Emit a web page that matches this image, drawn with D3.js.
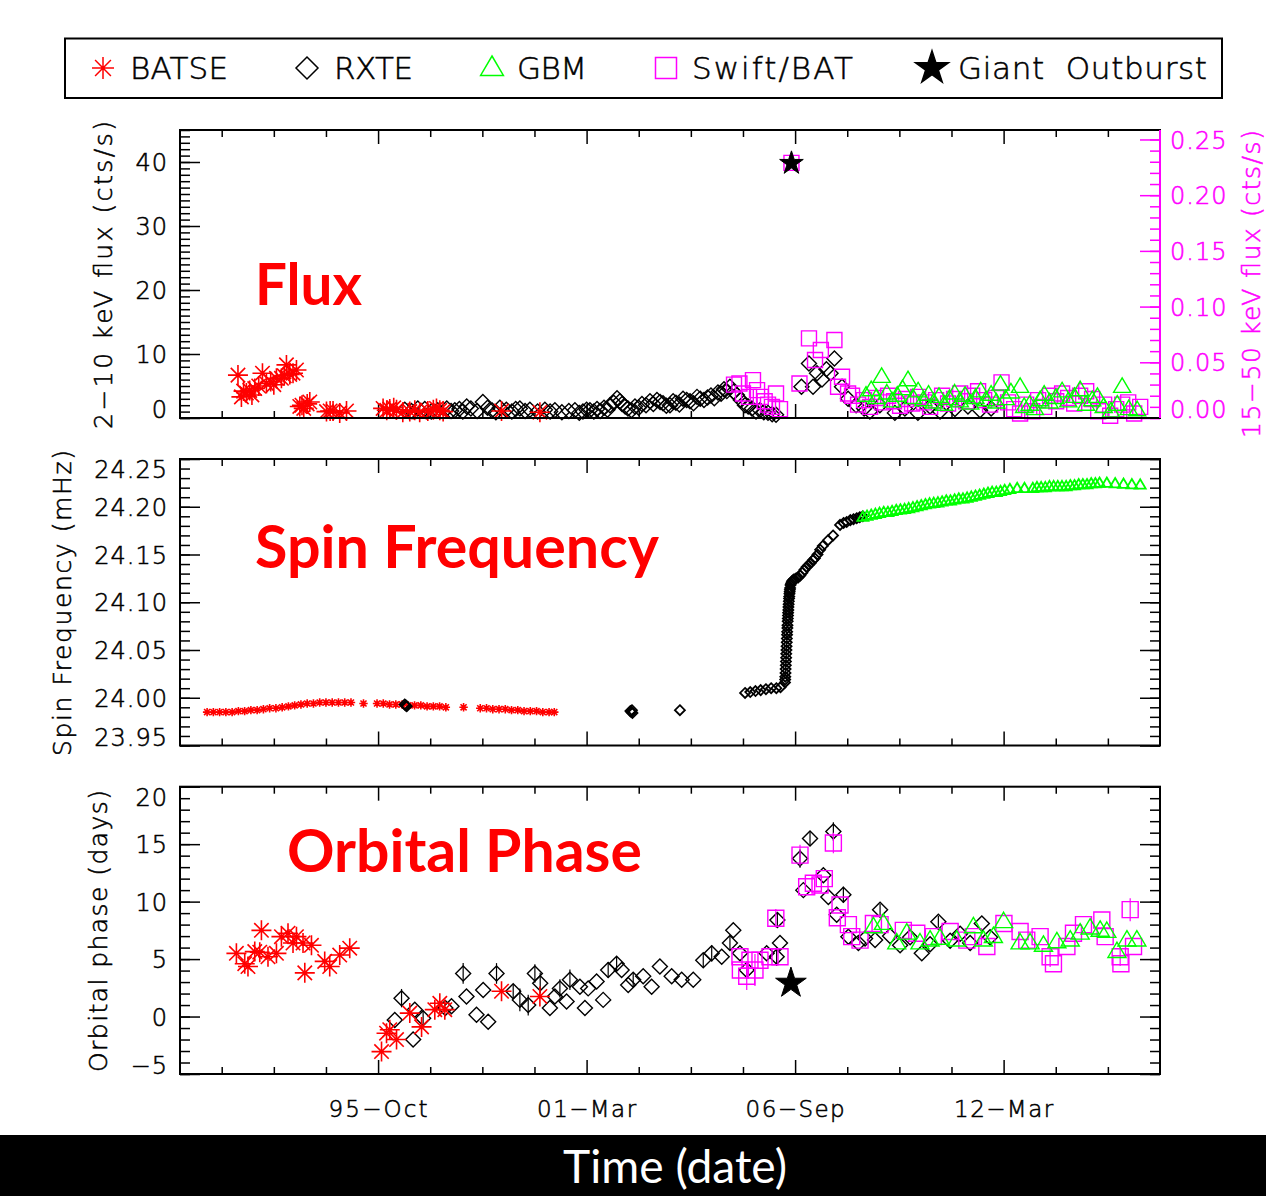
<!DOCTYPE html>
<html><head><meta charset="utf-8">
<script src="https://cdn.jsdelivr.net/npm/d3@7"></script>
<style>
html,body{margin:0;padding:0;background:#fff;}
svg{display:block;}
</style></head><body>
<svg id="chart" width="1266" height="1196"></svg>
<script>
// ---------------- DATA (x = MJD) ----------------
const xDomain = [48100, 57500];
const xMajorTicks = [50000, 52000, 54000, 56000];
const xTickLabels = ["95\u2212Oct", "01\u2212Mar", "06\u2212Sep", "12\u2212Mar"];
const xMinorTicks = [48500, 49000, 49500, 50500, 51000, 51500, 52500, 53000, 53500, 54500, 55000, 55500, 56500, 57000];

const fluxDomain = [0, 45];
const fluxTicks = [0, 10, 20, 30, 40];
const fluxRightDomain = [0, 0.2585];
const fluxRightTicks = [0, 0.05, 0.10, 0.15, 0.20, 0.25];
const spinDomain = [23.95, 24.25];
const spinTicks = [23.95, 24.00, 24.05, 24.10, 24.15, 24.20, 24.25];
const orbitDomain = [-5, 20];
const orbitTicks = [-5, 0, 5, 10, 15, 20];

const legendLabels = ["BATSE", "RXTE", "GBM", "Swift/BAT", "Giant\u00a0\u00a0Outburst"];

// Flux panel (left axis: BATSE, RXTE; right axis: GBM, Swift/BAT)
const batseFlux = [[48656,6.7],[48689,3.3],[48710,4.2],[48737,3.9],[48769,4.3],[48790,3.6],[48817,4.6],[48855,5.0],[48891,7.0],[48929,5.4],[48970,5.7],[49000,5.2],[49025,6.2],[49073,6.2],[49100,6.6],[49121,8.3],[49153,6.8],[49184,7.0],[49217,7.5],[49249,1.8],[49270,2.0],[49287,1.5],[49320,2.2],[49345,2.5],[49505,1.0],[49540,1.1],[49568,1.1],[49632,0.8],[49697,1.1],[50048,1.5],[50083,1.2],[50112,1.4],[50150,1.6],[50177,1.3],[50237,0.9],[50304,1.0],[50352,1.2],[50399,0.9],[50477,1.1],[50530,1.3],[50560,1.5],[50592,1.2],[50624,1.0],[51184,1.1],[51552,0.9]];
const rxteFlux = [[50256,1.3],[50320,1.1],[50381,1.5],[50448,1.4],[50510,1.0],[50572,1.2],[50659,1.5],[50700,1.1],[50736,1.2],[50780,1.4],[50813,1.0],[50850,1.8],[50890,1.5],[50950,1.1],[51005,2.5],[51050,1.6],[51092,1.2],[51130,0.9],[51168,1.6],[51230,1.3],[51283,1.0],[51320,1.4],[51360,1.5],[51410,1.1],[51456,1.3],[51530,1.0],[51600,1.3],[51650,1.0],[51696,1.2],[51763,0.9],[51830,1.1],[51888,1.2],[51930,0.8],[51965,1.0],[52000,1.3],[52032,1.2],[52070,1.0],[52100,1.4],[52130,1.1],[52167,1.6],[52200,1.3],[52224,2.0],[52260,2.4],[52292,3.1],[52320,2.6],[52340,2.2],[52370,1.8],[52397,1.5],[52430,1.2],[52464,1.8],[52500,1.6],[52531,2.2],[52570,2.0],[52608,2.6],[52640,2.2],[52675,2.8],[52705,2.5],[52733,2.3],[52765,1.9],[52800,2.0],[52830,2.6],[52857,2.4],[52890,2.1],[52925,3.0],[52960,2.8],[52992,2.6],[53025,2.3],[53059,3.3],[53090,3.0],[53126,2.8],[53160,3.2],[53193,3.5],[53225,3.1],[53260,4.0],[53290,3.8],[53318,4.5],[53345,4.2],[53375,4.9],[53410,4.1],[53442,3.6],[53480,2.8],[53519,2.0],[53550,1.8],[53586,1.5],[53625,1.0],[53663,1.2],[53700,0.9],[53740,0.8],[53780,0.6],[53817,0.5],[54061,4.9],[54133,8.5],[54172,4.9],[54210,7.0],[54258,6.0],[54300,7.6],[54340,7.0],[54377,9.3],[54450,4.9],[54508,3.0],[54585,2.0],[54662,1.5],[54717,1.0],[54813,2.0],[54957,0.8],[55053,1.5],[55178,0.8],[55294,1.8],[55390,1.0],[55533,1.4],[55658,1.8],[55774,1.2],[55880,1.5]];
const swiftFlux = [[53414,0.030],[53466,0.031],[53500,0.022],[53558,0.019],[53596,0.034],[53635,0.025],[53671,0.019],[53708,0.015],[53740,0.012],[53778,0.010],[53817,0.022],[53855,0.008],[53965,0.229],[54042,0.031],[54133,0.0715],[54191,0.052],[54247,0.061],[54377,0.070],[54412,0.028],[54450,0.037],[54508,0.022],[54546,0.020],[54604,0.012],[54661,0.016],[54719,0.010],[54776,0.018],[54834,0.014],[54892,0.020],[54949,0.015],[55007,0.011],[55064,0.017],[55122,0.013],[55180,0.019],[55237,0.014],[55295,0.010],[55352,0.016],[55410,0.020],[55467,0.013],[55525,0.017],[55583,0.022],[55640,0.015],[55698,0.020],[55755,0.024],[55813,0.016],[55870,0.012],[55928,0.018],[55980,0.032],[56043,0.014],[56101,0.008],[56158,0.004],[56216,0.012],[56274,0.006],[56331,0.016],[56389,0.010],[56446,0.020],[56504,0.015],[56561,0.022],[56619,0.018],[56677,0.013],[56734,0.020],[56792,0.024],[56849,0.017],[56907,0.006],[56964,0.012],[57022,0.002],[57080,0.008],[57137,0.012],[57195,0.014],[57252,0.004],[57310,0.010]];
const gbmFlux = [[54680,0.020],[54730,0.025],[54780,0.018],[54830,0.037],[54880,0.022],[54930,0.015],[54980,0.020],[55030,0.026],[55083,0.034],[55130,0.018],[55180,0.024],[55230,0.016],[55280,0.021],[55330,0.014],[55380,0.019],[55430,0.012],[55480,0.017],[55530,0.022],[55580,0.015],[55630,0.020],[55680,0.013],[55730,0.018],[55780,0.024],[55830,0.016],[55880,0.021],[55930,0.014],[55970,0.030],[56020,0.017],[56070,0.023],[56158,0.028],[56197,0.010],[56250,0.012],[56300,0.008],[56350,0.016],[56389,0.021],[56440,0.014],[56500,0.018],[56561,0.024],[56620,0.015],[56680,0.019],[56734,0.025],[56790,0.012],[56850,0.016],[56900,0.019],[56960,0.010],[57030,0.006],[57090,0.012],[57137,0.028],[57200,0.008],[57281,0.007]];
const outburstFlux = [[53965, 39.8]];

// Spin frequency panel (mHz)
const batseSpin = [[48360,23.985],[48420,23.985],[48480,23.985],[48540,23.985],[48600,23.985],[48660,23.986],[48720,23.986],[48780,23.987],[48840,23.987],[48900,23.988],[48960,23.989],[49020,23.989],[49080,23.990],[49140,23.991],[49200,23.992],[49260,23.993],[49320,23.994],[49380,23.994],[49440,23.995],[49500,23.995],[49560,23.995],[49620,23.995],[49680,23.995],[49740,23.995],[49860,23.994],[49990,23.994],[50050,23.994],[50110,23.993],[50170,23.993],[50230,23.993],[50290,23.992],[50350,23.992],[50410,23.992],[50470,23.991],[50530,23.991],[50590,23.991],[50650,23.990],[50820,23.990],[50980,23.989],[51040,23.989],[51100,23.988],[51160,23.988],[51220,23.988],[51280,23.987],[51340,23.987],[51400,23.986],[51460,23.986],[51520,23.986],[51580,23.985],[51640,23.985],[51690,23.985]];
const rxteSpin = [[50255,23.993],[50266,23.992],[50275,23.991],[52420,23.986],[52430,23.985],[52435,23.987],[52440,23.984],[52895,23.987],[53520,24.005],[53570,24.006],[53620,24.007],[53670,24.008],[53720,24.009],[53770,24.010],[53820,24.010],[53860,24.011],[53903,24.016],[53905,24.019],[53906,24.022],[53908,24.026],[53909,24.030],[53911,24.034],[53912,24.038],[53914,24.042],[53915,24.046],[53917,24.050],[53918,24.054],[53920,24.058],[53921,24.062],[53923,24.066],[53924,24.069],[53926,24.073],[53927,24.076],[53929,24.080],[53930,24.083],[53932,24.086],[53933,24.089],[53935,24.092],[53936,24.095],[53938,24.098],[53940,24.101],[53942,24.104],[53944,24.106],[53946,24.109],[53948,24.111],[53950,24.113],[53952,24.115],[53956,24.118],[53962,24.120],[53970,24.122],[53980,24.123],[53990,24.124],[54010,24.125],[54030,24.126],[54050,24.128],[54070,24.131],[54090,24.134],[54110,24.137],[54130,24.139],[54150,24.141],[54170,24.144],[54190,24.146],[54215,24.150],[54240,24.155],[54265,24.159],[54316,24.165],[54364,24.170],[54431,24.181],[54465,24.183],[54495,24.184],[54530,24.186],[54560,24.187],[54591,24.188],[54620,24.189],[54650,24.190]];
const gbmSpin = [[54650,24.189],[54690,24.190],[54730,24.191],[54770,24.192],[54810,24.193],[54850,24.194],[54890,24.194],[54930,24.195],[54970,24.196],[55010,24.1965],[55050,24.197],[55090,24.198],[55130,24.199],[55170,24.200],[55210,24.201],[55250,24.202],[55290,24.203],[55330,24.2035],[55370,24.204],[55410,24.205],[55450,24.206],[55490,24.206],[55530,24.207],[55570,24.208],[55610,24.208],[55650,24.209],[55690,24.210],[55730,24.211],[55770,24.212],[55810,24.213],[55850,24.214],[55890,24.215],[55930,24.215],[55970,24.216],[56010,24.217],[56060,24.218],[56130,24.219],[56200,24.219],[56280,24.219],[56320,24.220],[56360,24.220],[56400,24.220],[56440,24.221],[56480,24.221],[56520,24.221],[56560,24.221],[56600,24.221],[56640,24.222],[56680,24.222],[56720,24.223],[56760,24.223],[56800,24.223],[56840,24.224],[56880,24.224],[56920,24.2245],[56990,24.2245],[57070,24.224],[57150,24.2235],[57230,24.223],[57310,24.2227]];

// Orbital phase panel (days)
const batseOrbit = [[48641,5.5],[48721,4.6],[48752,4.35],[48817,5.65],[48865,5.6],[48881,7.5],[48944,5.2],[49025,5.5],[49073,6.95],[49136,7.25],[49184,6.4],[49217,6.95],[49280,6.4],[49297,3.8],[49361,6.2],[49488,4.8],[49536,4.35],[49632,5.35],[49728,5.95],[50033,-3.05],[50081,-1.45],[50112,-1.15],[50177,-2.0],[50304,0.3],[50417,-0.9],[50544,0.6],[50592,1.15],[50640,0.6],[51184,2.2],[51552,1.75]];
const rxteOrbit = [[50160,-0.3],[50225,1.6],[50336,-2.0],[50352,0.6],[50432,-0.15],[50645,0.75],[50704,0.9],[50816,3.75],[50848,1.75],[50944,0.15],[51008,2.3],[51056,-0.45],[51136,3.75],[51296,2.2],[51360,1.45],[51440,1.0],[51504,3.75],[51555,2.9],[51648,0.75],[51696,1.75],[51744,2.45],[51808,1.3],[51840,3.2],[51936,2.6],[51984,0.75],[52015,2.45],[52096,3.05],[52159,1.45],[52207,4.05],[52288,4.6],[52336,4.05],[52399,2.75],[52447,3.2],[52543,3.5],[52624,2.6],[52703,4.35],[52816,3.5],[52912,3.2],[53023,3.2],[53119,4.9],[53200,5.5],[53296,5.2],[53375,6.4],[53407,7.5],[53471,5.5],[53536,4.05],[53727,5.5],[53823,5.2],[53830,8.4],[53855,6.4],[54047,13.75],[54079,11.0],[54143,15.5],[54271,12.3],[54319,10.4],[54367,16.1],[54399,8.85],[54463,10.6],[54511,6.95],[54607,6.4],[54671,6.8],[54767,6.65],[54815,9.3],[54911,7.0],[55007,6.2],[55103,6.9],[55215,5.5],[55295,6.3],[55374,8.25],[55487,6.6],[55583,7.2],[55679,6.4],[55791,8.1],[55870,6.9]];
const rxteOrbitErr = [[50225,0.8],[50432,0.7],[50816,0.9],[51136,0.9],[51296,0.6],[51360,1.0],[51440,0.9],[51504,0.8],[51555,0.9],[51744,0.8],[51840,0.9],[52207,0.7],[52288,0.6],[52447,0.6],[53119,0.6],[53200,0.7],[53375,0.6],[53536,0.6],[53823,0.8],[53830,0.7],[54047,0.8],[54143,0.6],[54367,0.8],[54463,0.7],[54815,0.5],[55374,0.5]];
const swiftOrbit = [[53471,5.2],[53475,4.05],[53536,3.5],[53567,4.9],[53615,4.05],[53663,4.9],[53759,5.2],[53815,8.55],[53855,5.2],[54047,14.05],[54111,11.3],[54175,11.6],[54239,11.45],[54280,12.0],[54367,15.1],[54405,8.6],[54431,9.7],[54511,8.0],[54543,6.95],[54623,6.65],[54751,8.1],[54815,8.0],[55038,7.5],[55167,7.25],[55326,6.95],[55487,7.4],[55647,6.65],[55710,6.95],[55839,6.1],[56003,8.1],[56158,7.4],[56222,6.65],[56350,6.95],[56446,5.2],[56478,4.6],[56607,6.1],[56670,7.25],[56766,8.0],[56942,8.4],[56974,6.95],[57118,5.2],[57125,4.6],[57214,9.3],[57246,6.1]];
const swiftOrbitErr = [[53536,1.2],[53615,1.4],[53815,0.8],[54047,0.9],[54367,0.9],[56446,0.9],[57118,0.8],[57214,1.0]];
const gbmOrbit = [[54751,7.8],[54847,8.1],[54975,6.4],[55071,7.25],[55198,6.4],[55295,6.65],[55390,6.8],[55551,6.65],[55710,7.8],[55806,6.65],[55902,6.95],[56000,8.25],[56158,6.4],[56254,6.4],[56382,6.2],[56511,6.5],[56639,6.65],[56734,7.25],[56830,7.7],[56926,7.5],[56990,7.4],[57087,5.65],[57183,6.65],[57278,6.65]];
const outburstOrbit = [[53960, 2.9]];

// ---------------- LAYOUT ----------------
const PL = 180, PR = 1160;
const RED = "#ff0000", GREEN = "#00ff00", MAG = "#ff00ff", BLK = "#000000";
const TICKFONT = "'DejaVu Sans', sans-serif";
const svg = d3.select("#chart");
svg.append("rect").attr("width", 1266).attr("height", 1196).attr("fill", "#fff");

const x = d3.scaleLinear().domain(xDomain).range([PL, PR]);

// marker shapes
const shapes = {
  asterisk: r => { const a = r * 0.72; return `M0,${-r}V${r}M${-r},0H${r}M${-a},${-a}L${a},${a}M${-a},${a}L${a},${-a}`; },
  diamond: r => `M0,${-r}L${r},0L0,${r}L${-r},0Z`,
  square: r => `M${-r},${-r}H${r}V${r}H${-r}Z`,
  triangle: r => `M0,${-r}L${r*0.95},${r*0.62}L${-r*0.95},${r*0.62}Z`,
  star: r => d3.symbol(d3.symbolStar, Math.PI * r * r * 0.55)()
};

function plotSeries(g, data, y, shape, r, color, sw, filled) {
  g.append("g").selectAll("path").data(data).join("path")
    .attr("transform", d => `translate(${x(d[0])},${y(d[1])})`)
    .attr("d", shapes[shape](r))
    .attr("fill", filled ? color : "none")
    .attr("stroke", color)
    .attr("stroke-width", sw);
}

function plotErrors(g, data, errs, y, color) {
  const lookup = new Map(data.map(d => [d[0], d[1]]));
  g.append("g").selectAll("line").data(errs.filter(e => lookup.has(e[0]))).join("line")
    .attr("x1", d => x(d[0])).attr("x2", d => x(d[0]))
    .attr("y1", d => y(lookup.get(d[0]) - d[1])).attr("y2", d => y(lookup.get(d[0]) + d[1]))
    .attr("stroke", color).attr("stroke-width", 1.2);
}

function minorRange(dom, step) {
  const out = [];
  const n = Math.round((dom[1] - dom[0]) / step);
  for (let i = 0; i <= n; i++) out.push(+(dom[0] + i * step).toFixed(6));
  return out;
}

function thinText(sel, color, size) {
  sel.attr("fill", color).attr("font-family", TICKFONT).attr("font-weight", 200)
    .attr("font-size", size).attr("stroke", color).attr("stroke-width", 0.55);
}

function styleAxis(g, color) {
  g.select(".domain").remove();
  g.attr("font-size", null).attr("font-family", null);
  g.selectAll("line").attr("stroke", color).attr("stroke-width", 1.5);
  thinText(g.selectAll("text"), color, 24);
  g.selectAll("text").attr("letter-spacing", 1);
}

function panel(top, bottom, yDom, yTicks, yMinorStep, yFmt, showXLabels) {
  const g = svg.append("g");
  const y = d3.scaleLinear().domain(yDom).range([bottom, top]);
  const xb = g.append("g").attr("transform", `translate(0,${bottom})`);
  xb.call(d3.axisBottom(x).tickValues(xMinorTicks).tickSize(-7).tickSizeOuter(0).tickFormat(""));
  styleAxis(xb, BLK);
  const xbm = g.append("g").attr("transform", `translate(0,${bottom})`);
  xbm.call(d3.axisBottom(x).tickValues(xMajorTicks).tickSize(-14).tickSizeOuter(0)
    .tickPadding(27).tickFormat((d, i) => showXLabels ? xTickLabels[i] : ""));
  styleAxis(xbm, BLK);
  xbm.selectAll("text").attr("font-size", 23).attr("textLength", 100).attr("lengthAdjust", "spacing");
  const xt = g.append("g").attr("transform", `translate(0,${top})`);
  xt.call(d3.axisTop(x).tickValues(xMinorTicks).tickSize(-7).tickSizeOuter(0).tickFormat(""));
  styleAxis(xt, BLK);
  const xtm = g.append("g").attr("transform", `translate(0,${top})`);
  xtm.call(d3.axisTop(x).tickValues(xMajorTicks).tickSize(-14).tickSizeOuter(0).tickFormat(""));
  styleAxis(xtm, BLK);
  const minors = minorRange(yDom, yMinorStep);
  const yl = g.append("g").attr("transform", `translate(${PL},0)`);
  yl.call(d3.axisLeft(y).tickValues(minors).tickSize(-10).tickSizeOuter(0).tickFormat(""));
  styleAxis(yl, BLK);
  const ylm = g.append("g").attr("transform", `translate(${PL},0)`);
  ylm.call(d3.axisLeft(y).tickValues(yTicks).tickSize(-20).tickSizeOuter(0).tickPadding(12).tickFormat(yFmt));
  styleAxis(ylm, BLK);
  clampLabels(ylm, y, top, bottom);
  return { g, y, minors };
}

function clampLabels(ax, y, top, bottom) {
  ax.selectAll(".tick").each(function (d) {
    const ty = y(d);
    let dy = 0;
    if (ty < top + 10) dy = top + 10 - ty;
    if (ty > bottom - 9) dy = bottom - 9 - ty;
    d3.select(this).select("text").attr("y", dy).attr("dy", "0.36em");
  });
}

function mirrorRight(p, yTicks, color) {
  const yr = p.g.append("g").attr("transform", `translate(${PR},0)`);
  yr.call(d3.axisRight(p.y).tickValues(p.minors).tickSize(-10).tickSizeOuter(0).tickFormat(""));
  styleAxis(yr, color);
  const yrm = p.g.append("g").attr("transform", `translate(${PR},0)`);
  yrm.call(d3.axisRight(p.y).tickValues(yTicks).tickSize(-20).tickSizeOuter(0).tickFormat(""));
  styleAxis(yrm, color);
}

function frame(top, bottom) {
  svg.append("rect").attr("x", PL).attr("y", top).attr("width", PR - PL).attr("height", bottom - top)
    .attr("fill", "none").attr("stroke", BLK).attr("stroke-width", 2);
}

// ---------------- FLUX PANEL ----------------
const fTop = 130, fBot = 418;
const pf = panel(fTop, fBot, fluxDomain, fluxTicks, 1, d3.format("d"), false);
const yR = d3.scaleLinear().domain(fluxRightDomain).range([fBot, fTop]);
plotSeries(pf.g, rxteFlux, pf.y, "diamond", 7.5, BLK, 1.4, false);
plotSeries(pf.g, batseFlux, pf.y, "asterisk", 10, RED, 1.6, false);
plotSeries(pf.g, swiftFlux, yR, "square", 7.5, MAG, 1.4, false);
plotSeries(pf.g, gbmFlux, yR, "triangle", 9, GREEN, 1.4, false);
plotSeries(pf.g, outburstFlux, pf.y, "star", 10, BLK, 1, true);
frame(fTop, fBot);
{
  const ra = pf.g.append("g").attr("transform", `translate(${PR},0)`);
  ra.call(d3.axisRight(yR).tickValues(minorRange([0, 0.25], 0.01)).tickSize(-10).tickSizeOuter(0).tickFormat(""));
  styleAxis(ra, MAG);
  const ram = pf.g.append("g").attr("transform", `translate(${PR},0)`);
  ram.call(d3.axisRight(yR).tickValues(fluxRightTicks).tickSize(-20).tickSizeOuter(0).tickPadding(10).tickFormat(d3.format(".2f")));
  styleAxis(ram, MAG);
  clampLabels(ram, yR, fTop, fBot);
  svg.append("line").attr("x1", PR).attr("x2", PR).attr("y1", fTop).attr("y2", fBot)
    .attr("stroke", MAG).attr("stroke-width", 2);
}

// ---------------- SPIN PANEL ----------------
const sTop = 459, sBot = 745.5;
const ps = panel(sTop, sBot, spinDomain, spinTicks, 0.01, d3.format(".2f"), false);
mirrorRight(ps, spinTicks, BLK);
plotSeries(ps.g, batseSpin, ps.y, "asterisk", 4.2, RED, 1.6, false);
plotSeries(ps.g, rxteSpin, ps.y, "diamond", 5, BLK, 1.8, false);
plotSeries(ps.g, gbmSpin, ps.y, "triangle", 5.8, GREEN, 1.8, false);
frame(sTop, sBot);

// ---------------- ORBIT PANEL ----------------
const oTop = 786.7, oBot = 1074;
const po = panel(oTop, oBot, orbitDomain, orbitTicks, 1, d3.format("d"), true);
mirrorRight(po, orbitTicks, BLK);
plotErrors(po.g, rxteOrbit, rxteOrbitErr, po.y, BLK);
plotSeries(po.g, rxteOrbit, po.y, "diamond", 7.5, BLK, 1.4, false);
plotSeries(po.g, batseOrbit, po.y, "asterisk", 10, RED, 1.6, false);
plotErrors(po.g, swiftOrbit, swiftOrbitErr, po.y, MAG);
plotSeries(po.g, swiftOrbit, po.y, "square", 8, MAG, 1.4, false);
plotSeries(po.g, gbmOrbit, po.y, "triangle", 9.5, GREEN, 1.4, false);
plotSeries(po.g, outburstOrbit, po.y, "star", 13, BLK, 1, true);
frame(oTop, oBot);

// ---------------- AXIS TITLES ----------------
function vTitle(txt, cx, cy, len, color) {
  const t = svg.append("text").text(txt)
    .attr("transform", `translate(${cx},${cy}) rotate(-90)`)
    .attr("text-anchor", "middle").attr("dominant-baseline", "central")
    .attr("textLength", len).attr("lengthAdjust", "spacing");
  thinText(t, color, 25);
}
vTitle("2\u221210  keV  flux  (cts/s)", 103, 275, 308, BLK);
vTitle("Spin  Frequency  (mHz)", 62, 603, 306, BLK);
vTitle("Orbital  phase  (days)", 98, 931, 282, BLK);
vTitle("15\u221250  keV  flux  (cts/s)", 1251, 284, 308, MAG);

// ---------------- PANEL LABELS ----------------
function bigLabel(txt, lx, by, w) {
  const t = svg.append("text").text(txt).attr("x", lx).attr("y", by)
    .attr("font-family", "Lato, 'Open Sans', sans-serif").attr("font-weight", 700)
    .attr("font-size", 58).attr("fill", RED);
  const cw = t.node().getComputedTextLength();
  if (cw > 0) t.attr("font-size", 58 * w / cw);
}
bigLabel("Flux", 255, 305, 107);
bigLabel("Spin Frequency", 255, 568, 404);
bigLabel("Orbital Phase", 287, 872, 355);

// ---------------- LEGEND ----------------
svg.append("rect").attr("x", 65).attr("y", 38.5).attr("width", 1157).attr("height", 59.5)
  .attr("fill", "#fff").attr("stroke", BLK).attr("stroke-width", 2);
const legendItems = [
  { shape: "asterisk", color: RED, cx: 103, tx: 130, w: 98, r: 11, filled: false },
  { shape: "diamond", color: BLK, cx: 307, tx: 334, w: 79, r: 11, filled: false },
  { shape: "triangle", color: GREEN, cx: 492, tx: 517, w: 70, r: 12, filled: false },
  { shape: "square", color: MAG, cx: 666, tx: 692, w: 161, r: 10.5, filled: false },
  { shape: "star", color: BLK, cx: 932, tx: 958, w: 249, r: 14, filled: true }
];
legendItems.forEach((it, i) => {
  svg.append("path").attr("transform", `translate(${it.cx},68)`).attr("d", shapes[it.shape](it.r))
    .attr("fill", it.filled ? it.color : "none").attr("stroke", it.color).attr("stroke-width", 1.5);
  const t = svg.append("text").text(legendLabels[i]).attr("x", it.tx).attr("y", 79)
    .attr("textLength", it.w).attr("lengthAdjust", "spacing");
  thinText(t, BLK, 31);
});

// ---------------- BOTTOM BAND ----------------
svg.append("rect").attr("x", 0).attr("y", 1135).attr("width", 1266).attr("height", 61).attr("fill", BLK);
{
  const t = svg.append("text").text("Time (date)").attr("x", 675).attr("y", 1183)
    .attr("text-anchor", "middle").attr("font-family", "Lato, 'Open Sans', sans-serif")
    .attr("font-size", 40).attr("fill", "#fff");
  const cw = t.node().getComputedTextLength();
  if (cw > 0) t.attr("font-size", 40 * 224 / cw);
}
</script>
</body></html>
